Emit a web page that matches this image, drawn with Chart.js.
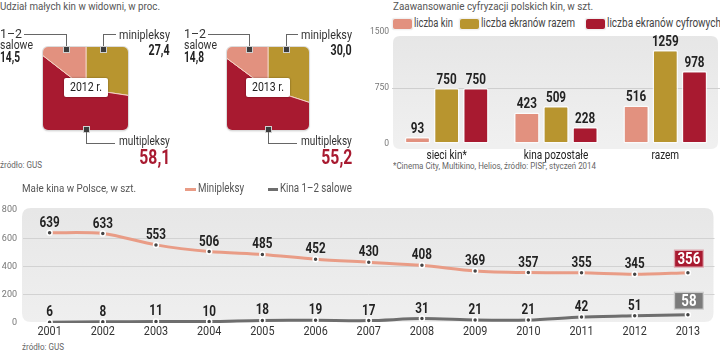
<!DOCTYPE html>
<html><head><meta charset="utf-8">
<script src="https://cdn.jsdelivr.net/npm/chart.js@4/dist/chart.umd.min.js"></script>
<style>
html,body{margin:0;padding:0;background:#fff;}
body{width:720px;height:353px;position:relative;overflow:hidden;font-family:Roboto,sans-serif;color:#333;}
.t{position:absolute;white-space:nowrap;line-height:1;}
.ln{position:absolute;background:#666;}
.mk{position:absolute;width:5px;height:5px;background:#3c3c3c;border:1px solid #d0d0d0;}
.sq{position:absolute;overflow:hidden;border-radius:5px;box-shadow:0 0 0 1px #dcdcdc,0 1px 2px rgba(0,0,0,0.25);}
.sq canvas{position:absolute;}
.yr{position:absolute;background:#fff;border-radius:2px;box-shadow:0 0 2px rgba(0,0,0,0.45);}
.lbox{position:absolute;width:19px;height:10px;border-radius:2px;box-shadow:0 0 0 1px rgba(255,255,255,0.7),0 0 1px 1px #ccc;}
.lline{position:absolute;height:3px;}
canvas.abs{position:absolute;}
</style></head>
<body>
<div id="host"></div>
<canvas id="bar" class="abs" width="350" height="175" style="left:370px;top:0;"></canvas>
<canvas id="line" class="abs" width="720" height="175" style="left:0;top:178px;"></canvas>

<script>
// ---------- DATA ----------
const pieLabels = ['minipleksy', 'multipleksy', '1–2 salowe'];
const pieYears = ['2012 r.', '2013 r.'];
const pie2012 = [27.4, 58.1, 14.5];
const pie2013 = [30.0, 55.2, 14.8];

const barCategories = ['sieci kin*', 'kina pozostałe', 'razem'];
const barSeriesNames = ['liczba kin', 'liczba ekranów razem', 'liczba ekranów cyfrowych'];
const liczbaKin = [93, 423, 516];
const ekranyRazem = [750, 509, 1259];
const ekranyCyfrowe = [750, 228, 978];
const barTicks = [0, 750, 1500];

const years = ['2001','2002','2003','2004','2005','2006','2007','2008','2009','2010','2011','2012','2013'];
const lineSeriesNames = ['Minipleksy', 'Kina 1–2 salowe'];
const minipleksy = [639, 633, 553, 506, 485, 452, 430, 408, 369, 357, 355, 345, 356];
const kina12 = [6, 8, 11, 10, 18, 19, 17, 31, 21, 21, 42, 51, 58];
const lineTicks = [0, 200, 400, 600, 800];

// ---------- STYLE ----------
const PINK = '#e2917f', GOLD = '#b8952f', RED = '#a81a30', GRAY = '#6e6e6e', LPINK = '#e99c86';
const FONT = 'Roboto, sans-serif';
const fmt = v => v.toFixed(1).replace('.', ',');
const host = document.getElementById('host');

function box(cls, style, parent) {
  const d = document.createElement('div'); d.className = cls; d.style.cssText = style;
  (parent || host).appendChild(d); return d;
}
// text: o = {x | right | center, cy, size, w, bold, color}
function txt(s, o) {
  const d = document.createElement('div'); d.className = 't'; d.textContent = s;
  d.style.fontSize = o.size + 'px'; d.style.fontWeight = o.bold ? '700' : '400';
  d.style.color = o.color || '#333';
  d.style.top = (o.cy - o.size * 0.55) + 'px';
  if (o.right !== undefined) { d.style.right = (720 - o.right) + 'px'; d.style.transformOrigin = 'right center'; }
  else { d.style.left = (o.x !== undefined ? o.x : o.center) + 'px'; d.style.transformOrigin = 'left center'; }
  host.appendChild(d);
  const w0 = d.getBoundingClientRect().width;
  const k = o.w ? o.w / w0 : 0.85;
  if (o.center !== undefined) d.style.left = (o.center - w0 * k / 2) + 'px';
  d.style.transform = `scaleX(${k})`;
  return d;
}

// ---------- TOP-LEFT: SQUARE PIES ----------
txt('Udział małych kin w widowni, w proc.', {x: 0, cy: 7, size: 11, w: 160, color: '#555'});
txt('źródło: GUS', {x: 0, cy: 166, size: 9, w: 42, color: '#666'});
const pieCfgs = [
  {vals: pie2012, year: pieYears[0], sx: 43, sw: 85, textR: 170, m1: 66, m2: 103, tl: 0},
  {vals: pie2013, year: pieYears[1], sx: 227, sw: 82, textR: 352, m1: 249, m2: 286, tl: 184}
];
pieCfgs.forEach(p => {
  const sy = 47, sh = 83;
  const sq = box('sq', `left:${p.sx}px;top:${sy}px;width:${p.sw}px;height:${sh}px;`);
  const cs = 124;
  const c = document.createElement('canvas');
  c.width = cs; c.height = cs;
  c.style.left = ((p.sw - cs) / 2) + 'px'; c.style.top = ((sh - cs) / 2) + 'px';
  sq.appendChild(c);
  new Chart(c, {
    type: 'pie',
    data: {labels: pieLabels, datasets: [{data: p.vals, backgroundColor: [GOLD, RED, PINK], borderColor: '#f3d2c4', borderWidth: 1}]},
    options: {responsive: false, animation: false, layout: {padding: 0},
      plugins: {legend: {display: false}, tooltip: {enabled: false}}}
  });
  const cx = p.sx + p.sw / 2;
  box('yr', `left:${cx - 22}px;top:${sy + 31}px;width:44px;height:19px;`);
  txt(p.year, {center: cx, cy: sy + 41, size: 12, w: 32, color: '#222'});
  // left label
  txt('1–2', {x: p.tl, cy: 35, size: 12, w: 22});
  txt('salowe', {x: p.tl, cy: 46, size: 12, w: 33});
  txt(fmt(p.vals[2]), {x: p.tl, cy: 58, size: 14, w: 20, bold: true, color: '#222'});
  box('ln', `left:${p.tl + 24}px;top:34px;width:${p.m1 - p.tl - 24}px;height:1px;`);
  box('ln', `left:${p.m1}px;top:34px;width:1px;height:14px;`);
  box('mk', `left:${p.m1 - 3}px;top:${sy - 1}px;`);
  // right top label
  txt(pieLabels[0], {right: p.textR, cy: 36, size: 12, w: 51});
  txt(fmt(p.vals[0]), {right: p.textR, cy: 51, size: 14, w: 21, bold: true, color: '#222'});
  box('ln', `left:${p.m2}px;top:34px;width:${p.textR - 54 - p.m2}px;height:1px;`);
  box('ln', `left:${p.m2}px;top:34px;width:1px;height:14px;`);
  box('mk', `left:${p.m2 - 3}px;top:${sy - 1}px;`);
  // bottom label
  const mx = Math.round(cx);
  box('mk', `left:${mx - 3}px;top:${sy + sh - 4}px;`);
  box('ln', `left:${mx}px;top:${sy + sh + 2}px;width:1px;height:11px;`);
  box('ln', `left:${mx}px;top:${sy + sh + 13}px;width:${p.textR - 55 - mx}px;height:1px;`);
  txt(pieLabels[1], {right: p.textR, cy: 142, size: 12, w: 51});
  txt(fmt(p.vals[1]), {right: p.textR, cy: 159, size: 21, w: 31, bold: true, color: RED});
});

// ---------- TOP-RIGHT texts ----------
txt('Zaawansowanie cyfryzacji polskich kin, w szt.', {x: 393, cy: 7, size: 11, w: 200, color: '#555'});
txt('*Cinema City, Multikino, Helios, źródło: PISF, styczeń 2014', {x: 393, cy: 167, size: 9, w: 203, color: '#666'});
[[393, PINK, 39], [460, GOLD, 94], [586, RED, 114]].forEach((b, i) => {
  box('lbox', `left:${b[0]}px;top:19px;background:${b[1]};`);
  txt(barSeriesNames[i], {x: b[0] + 21, cy: 24, size: 12, w: b[2], color: '#444'});
});
// ---------- BOTTOM texts ----------
txt('Małe kina w Polsce, w szt.', {x: 22, cy: 189, size: 11, w: 114, color: '#555'});
txt('źródło: GUS', {x: 22, cy: 348, size: 9, w: 42, color: '#666'});
[[185, LPINK, 11, 46], [268, GRAY, 10, 72]].forEach((b, i) => {
  box('lline', `left:${b[0]}px;top:188px;width:${b[2]}px;background:${b[1]};`);
  txt(lineSeriesNames[i], {x: b[0] + b[2] + 2, cy: 189, size: 12, w: b[3], color: '#555'});
});

// ---------- helpers ----------
function roundRect(ctx, x, y, w, h, r) {
  ctx.beginPath(); ctx.moveTo(x + r, y); ctx.lineTo(x + w - r, y); ctx.quadraticCurveTo(x + w, y, x + w, y + r);
  ctx.lineTo(x + w, y + h - r); ctx.quadraticCurveTo(x + w, y + h, x + w - r, y + h);
  ctx.lineTo(x + r, y + h); ctx.quadraticCurveTo(x, y + h, x, y + h - r);
  ctx.lineTo(x, y + r); ctx.quadraticCurveTo(x, y, x + r, y); ctx.closePath();
}
function condText(ctx, s, x, y, size, sx, bold, baseline) {
  ctx.save(); ctx.translate(x, y); ctx.scale(sx, 1);
  ctx.font = `${bold ? 'bold ' : ''}${size}px ${FONT}`; ctx.textAlign = 'center'; ctx.textBaseline = baseline || 'alphabetic';
  ctx.fillText(s, 0, 0); ctx.restore();
}
function drawXLabels(chart, cy, size, sx, color) {
  const sc = chart.scales.x, ctx = chart.ctx;
  ctx.save(); ctx.fillStyle = color;
  sc.ticks.forEach((t, i) => condText(ctx, String(chart.data.labels[i]), sc.getPixelForTick(i), cy, size, sx, false, 'middle'));
  ctx.restore();
}

// ---------- BAR CHART ----------
const barPlug = {
  id: 'barPlug',
  beforeDraw(chart) {
    const {ctx, chartArea: a} = chart;
    ctx.save();
    const g = ctx.createLinearGradient(0, a.top, 0, a.bottom);
    g.addColorStop(0, '#e6e6e6'); g.addColorStop(1, '#f0f0f0');
    ctx.fillStyle = g; roundRect(ctx, a.left + 1, a.top + 4, a.right - a.left - 3, a.bottom - a.top + 1, 7); ctx.fill();
    ctx.restore();
  },
  afterDatasetsDraw(chart) {
    const ctx = chart.ctx; ctx.save(); ctx.fillStyle = '#222';
    chart.data.datasets.forEach((ds, di) => {
      chart.getDatasetMeta(di).data.forEach((bar, i) => {
        condText(ctx, String(ds.data[i]), bar.x, bar.y - 4, 15, 0.78, true);
      });
    });
    ctx.restore();
    drawXLabels(chart, 155.5, 13, 0.77, '#222');
  }
};
new Chart(document.getElementById('bar'), {
  type: 'bar',
  data: {labels: barCategories, datasets: [
    {label: barSeriesNames[0], data: liczbaKin, backgroundColor: PINK},
    {label: barSeriesNames[1], data: ekranyRazem, backgroundColor: GOLD},
    {label: barSeriesNames[2], data: ekranyCyfrowe, backgroundColor: RED}
  ].map(d => Object.assign(d, {borderColor: 'rgba(255,255,255,0.75)', borderWidth: 1.5, borderRadius: 2, borderSkipped: false}))},
  options: {
    responsive: false, animation: false,
    categoryPercentage: 0.8, barPercentage: 0.88,
    layout: {padding: {top: 32, bottom: 11, left: 0, right: 0}},
    plugins: {legend: {display: false}, tooltip: {enabled: false}},
    scales: {
      x: {grid: {display: false, drawTicks: false}, border: {display: false},
        ticks: {display: false},
        afterFit: s => { s.height = 20; }},
      y: {min: 0, max: 1500, afterBuildTicks: s => { s.ticks = barTicks.map(v => ({value: v})); },
        grid: {drawTicks: false, color: c => (c.tick && c.tick.value === 750) ? '#cfcfcf' : 'rgba(0,0,0,0)'},
        border: {display: false},
        ticks: {padding: 3, color: '#777', font: {family: FONT, size: 8.5}, callback: v => String(v)},
        afterFit: s => { s.width = 22; }}
    }
  },
  plugins: [barPlug]
});

// ---------- LINE CHART ----------
const linePlug = {
  id: 'linePlug',
  beforeDraw(chart) {
    const {ctx, chartArea: a} = chart;
    ctx.save();
    const g = ctx.createLinearGradient(0, a.top, 0, a.bottom);
    g.addColorStop(0, '#e7e7e7'); g.addColorStop(1, '#efefef');
    ctx.fillStyle = g; roundRect(ctx, a.left - 1, a.top - 2, a.right - a.left, a.bottom - a.top + 1, 9); ctx.fill();
    ctx.restore();
  },
  afterDatasetsDraw(chart) {
    const ctx = chart.ctx; ctx.save();
    const boxCols = [RED, '#7b7b7b'];
    chart.data.datasets.forEach((ds, di) => {
      const pts = chart.getDatasetMeta(di).data;
      pts.forEach((pt, i) => {
        const s = String(ds.data[i]);
        if (i === pts.length - 1) {
          const w = 30, h = 18, x = pt.x - 14, y = pt.y - 5 - h;
          ctx.fillStyle = boxCols[di]; ctx.strokeStyle = 'rgba(255,255,255,0.6)'; ctx.lineWidth = 1.5;
          ctx.fillRect(x, y, w, h); ctx.strokeRect(x + 0.5, y + 0.5, w - 1, h - 1);
          ctx.fillStyle = '#fff'; condText(ctx, s, x + w / 2, y + h - 3.5, 17, 0.78, true);
        } else {
          ctx.fillStyle = '#222'; condText(ctx, s, pt.x, pt.y - 6, 15, 0.78, true);
        }
      });
    });
    ctx.restore();
    drawXLabels(chart, 332 - 178, 12, 0.9, '#333');
  }
};
new Chart(document.getElementById('line'), {
  type: 'line',
  data: {labels: years, datasets: [
    {label: lineSeriesNames[0], data: minipleksy, borderColor: LPINK},
    {label: lineSeriesNames[1], data: kina12, borderColor: GRAY}
  ].map(d => Object.assign(d, {borderWidth: 3, tension: 0.3, pointRadius: 2.5, pointBackgroundColor: '#444', pointBorderColor: '#fff', pointBorderWidth: 1.5}))},
  options: {
    responsive: false, animation: false,
    layout: {padding: {top: 32, bottom: 10, left: 0, right: 1}},
    plugins: {legend: {display: false}, tooltip: {enabled: false}},
    scales: {
      x: {offset: true, grid: {display: false, drawTicks: false}, border: {display: false},
        ticks: {display: false},
        afterFit: s => { s.height = 20; }},
      y: {min: 0, max: 800, afterBuildTicks: s => { s.ticks = lineTicks.map(v => ({value: v})); },
        grid: {drawTicks: false, color: c => (c.tick && c.tick.value > 0 && c.tick.value < 800) ? '#d2d2d2' : 'rgba(0,0,0,0)'},
        border: {display: false},
        ticks: {padding: 6, color: '#777', font: {family: FONT, size: 9}, callback: v => String(v)},
        afterFit: s => { s.width = 23; }}
    }
  },
  plugins: [linePlug]
});
</script>
</body></html>
